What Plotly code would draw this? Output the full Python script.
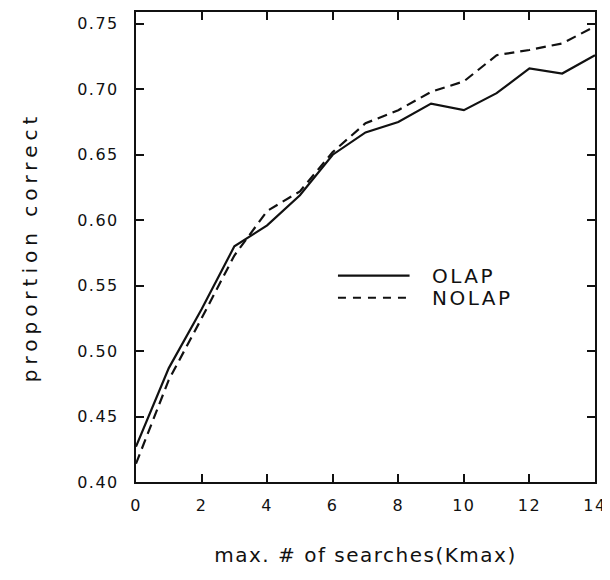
import plotly.graph_objects as go

kmax = [0, 1, 2, 3, 4, 5, 6, 7, 8, 9, 10, 11, 12, 13, 14]
olap = [0.427, 0.487, 0.532, 0.580, 0.596, 0.619, 0.650, 0.667, 0.675, 0.689, 0.684, 0.697, 0.716, 0.712, 0.726]
nolap = [0.414, 0.478, 0.525, 0.573, 0.607, 0.622, 0.652, 0.674, 0.684, 0.698, 0.706, 0.726, 0.730, 0.735, 0.748]
series_names = ["OLAP", "NOLAP"]
x_ticks = [0, 2, 4, 6, 8, 10, 12, 14]
y_ticks = [0.40, 0.45, 0.50, 0.55, 0.60, 0.65, 0.70, 0.75]

ink = "#111111"
font = "DejaVu Sans"


def spaced(t, px):
    return f'<span style="letter-spacing:{px}px">{t}</span>'


fig = go.Figure()
fig.add_trace(go.Scatter(x=kmax, y=olap, mode="lines", name=series_names[0],
                         line=dict(color=ink, width=2.2)))
fig.add_trace(go.Scatter(x=kmax, y=nolap, mode="lines", name=series_names[1],
                         line=dict(color=ink, width=2.2, dash="10px,6px")))

# legend drawn as shapes + text (long line samples as in the original)
leg = [(series_names[0], 0.439, None), (series_names[1], 0.392, "8px,7px")]
for name, yy, dash in leg:
    fig.add_shape(type="line", xref="paper", yref="paper",
                  x0=0.44, x1=0.596, y0=yy, y1=yy,
                  line=dict(color=ink, width=2.2, dash=dash))
    fig.add_annotation(text=spaced(name, 2.5), xref="paper", yref="paper", x=0.64, y=yy,
                       xanchor="left", yanchor="middle", showarrow=False,
                       font=dict(family=font, size=20, color=ink))

axis_common = dict(showgrid=False, zeroline=False, showline=True, linecolor=ink,
                   linewidth=2, mirror="ticks", ticks="inside", ticklen=8,
                   tickwidth=2, tickcolor=ink,
                   tickfont=dict(family=font, size=16, color=ink))

fig.update_xaxes(range=[0, 14], tickvals=x_ticks,
                 ticktext=[spaced(str(v), 1.5) for v in x_ticks],
                 ticklabelstandoff=8,
                 title=dict(text=spaced("max. # of searches(Kmax)", 1.5), standoff=34,
                            font=dict(family=font, size=20, color=ink)),
                 **axis_common)
fig.update_yaxes(range=[0.40, 0.759], tickvals=y_ticks,
                 ticktext=[spaced(f"{v:.2f}", 1.5) for v in y_ticks],
                 ticklabelstandoff=12,
                 title=dict(text=spaced("proportion correct", 5), standoff=34,
                            font=dict(family=font, size=20, color=ink)),
                 **axis_common)

# page body adds an 8px margin, so the figure is 8px smaller and offset
fig.update_layout(width=602, height=572, showlegend=False,
                  plot_bgcolor="white", paper_bgcolor="white",
                  margin=dict(l=128, r=15, t=2, b=98))

fig.write_html("out.html")
